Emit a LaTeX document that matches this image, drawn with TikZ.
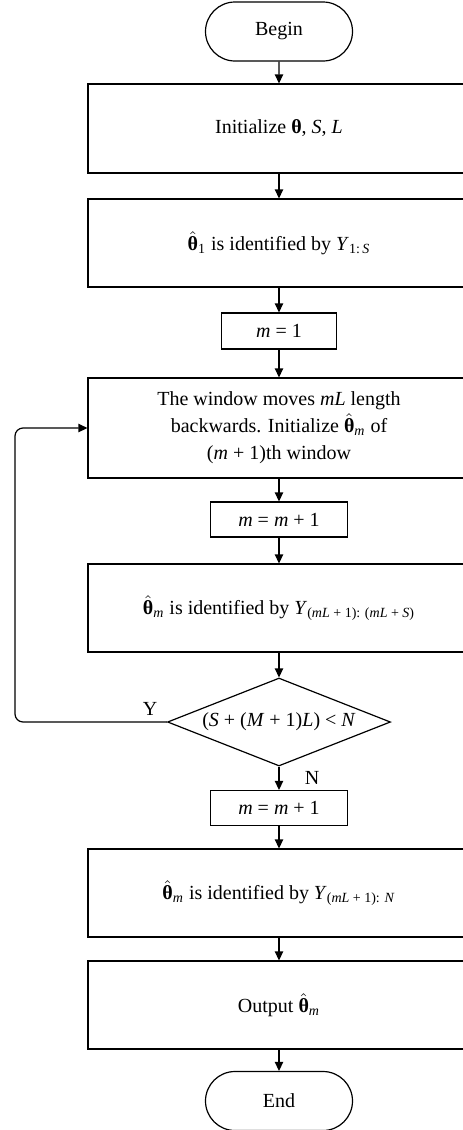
\documentclass[tikz,border=0pt]{standalone}
\usepackage{fontspec}
\usepackage{amsmath}
\setmainfont{Liberation Serif}
\usetikzlibrary{shapes.geometric,shapes.misc,arrows.meta}
\newcommand{\thhat}{$\hat{\mbox{\textbf{θ}}}$}
\newcommand{\lowsub}[1]{$_{\text{#1}}$}

\begin{document}
\begin{tikzpicture}[x=0.5pt,y=-0.5pt,font=\normalsize,>={Triangle[length=4.5pt,width=4.2pt]},
term/.style={rounded rectangle,draw,line width=0.6pt,minimum width=73.5pt,minimum height=29.5pt,inner sep=0pt},
proc/.style={rectangle,draw,line width=0.6pt,minimum width=191pt,minimum height=44.5pt,align=center,inner sep=0pt},
cnt/.style={proc,minimum width=68.5pt,minimum height=17.5pt},
dec/.style={diamond,aspect=2.5,draw,line width=0.6pt,minimum width=111.5pt,minimum height=44pt,inner sep=0pt},
flow/.style={->,line width=0.6pt},
lbl/.style={inner sep=0pt}]
\useasboundingbox (0,0) rectangle (462,1130);

\node[term] (begin) at (279,31.5) {Begin};
\node[proc] (init) at (279,128.5) {Initialize \textbf{θ}, \textit{S}, \textit{L}};
\node[proc,minimum height=44pt] (first) at (279,243) {\thhat\lowsub{1} is identified by \textit{Y}\lowsub{1:\,\textit{S}}};
\node[cnt,minimum width=57.5pt,minimum height=18pt] (mone) at (279,331) {\textit{m} = 1};
\node[proc,minimum height=50pt] (window) at (279,428) {The window moves \textit{mL} length\\[1.5pt] backwards. Initialize \thhat\lowsub{\textit{m}} of\\[1.5pt] (\textit{m} + 1)th window};
\node[cnt] (incra) at (279,519.5) {\textit{m} = \textit{m} + 1};
\node[proc,minimum height=44pt] (identm) at (279,608) {\thhat\lowsub{\textit{m}} is identified by \textit{Y}\lowsub{(\textit{mL} + 1): (\textit{mL} + \textit{S})}};
\node[dec] (check) at (279,722) {(\textit{S} + (\textit{M} + 1)\textit{L}) < \textit{N}};
\node[cnt] (incrb) at (279,808) {\textit{m} = \textit{m} + 1};
\node[proc,minimum height=44pt] (identn) at (279,893) {\thhat\lowsub{\textit{m}} is identified by \textit{Y}\lowsub{(\textit{mL} + 1): \textit{N}}};
\node[proc,minimum height=44pt] (output) at (279,1005) {Output \thhat\lowsub{\textit{m}}};
\node[term] (finish) at (279,1101) {End};

\node[lbl] (ylab) at (150,709) {Y};
\node[lbl] (nlab) at (312,778) {N};
\coordinate (loop) at (15,428);

\draw[flow] (begin) -- (init);
\draw[flow] (init) -- (first);
\draw[flow] (first) -- (mone);
\draw[flow] (mone) -- (window);
\draw[flow] (window) -- (incra);
\draw[flow] (incra) -- (identm);
\draw[flow] (identm) -- (check);
\draw[flow] (check) -- (incrb);
\draw[flow] (incrb) -- (identn);
\draw[flow] (identn) -- (output);
\draw[flow] (output) -- (finish);
\draw[flow,rounded corners=4pt] (check.west) -| (loop) -- (window.west);
\end{tikzpicture}
\end{document}
